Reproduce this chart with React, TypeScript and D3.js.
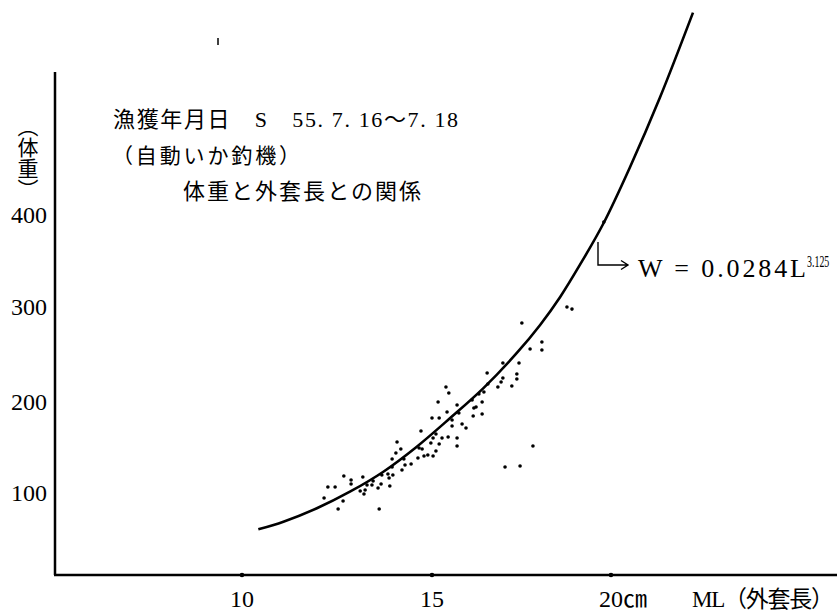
import * as d3 from "d3";

const width = 837;
const height = 615;

// mantle length (cm), body weight (g)
const lengths = [
  12.16, 12.26, 12.45, 12.53, 12.66, 12.68, 12.87, 12.87, 13.11, 13.18,
  13.24, 13.21, 13.29, 13.42, 13.45, 13.58, 13.61, 13.66, 13.68, 13.84,
  13.87, 13.89, 13.97, 13.95, 13.95, 14.05, 14.08, 14.18, 14.21, 14.26,
  14.29, 14.45, 14.63, 14.66, 14.71, 14.74, 14.79, 14.89, 14.97, 15.0,
  15.03, 15.03, 15.11, 15.11, 15.17, 15.2, 15.2, 15.28, 15.39, 15.45,
  15.47, 15.42, 15.56, 15.56, 15.7, 15.7, 15.7, 15.75, 15.84, 15.95,
  16.12, 16.15, 16.17, 16.23, 16.31, 16.4, 16.4, 16.45, 16.54, 16.56,
  16.84, 16.93, 16.98, 16.98, 17.04, 17.23, 17.37, 17.37, 17.43, 17.46,
  17.74, 17.82, 18.07, 18.07, 17.51, 18.77, 18.91, 19.8,
];
const weights = [
  94.5, 106.6, 106.6, 82.4, 91.2, 118.7, 114.3, 109.9, 102.2, 117.6,
  103.3, 98.9, 108.8, 108.8, 113.2, 105.5, 82.4, 109.9, 119.8, 120.9,
  116.5, 107.7, 119.8, 128.6, 137.4, 144.0, 156.0, 148.4, 125.3, 137.4,
  130.8, 131.9, 138.5, 149.5, 168.1, 148.4, 140.7, 141.8, 154.9, 182.4,
  160.4, 140.7, 164.8, 146.2, 200, 153.8, 182.4, 160.4, 215.8, 161.5,
  209.5, 189.0, 180.2, 173.6, 196.7, 160.4, 151.6, 187.9, 175.8, 171.4,
  202.1, 184.6, 193.4, 194.5, 208.4, 200, 186.8, 210.5, 230.5, 218.9,
  215.8, 221.1, 225.3, 241.1, 128.6, 216.8, 224.2, 229.5, 241.1, 129.7,
  255.8, 151.6, 263.2, 254.7, 283.2, 300, 297.8, 392.4,
];

// fitted curve W = 0.0284 L^3.125
const curveL = [10.43, 11.09, 11.97, 12.84, 13.72, 14.6, 15.5, 16.43, 17.37, 18.02, 18.58, 19.13, 19.78, 20.53, 21.37, 22.29];
const curveW = [60.1, 68.5, 83.2, 101.4, 123.4, 150.9, 182.1, 214.4, 251.6, 281.1, 310.9, 345.7, 390.2, 452, 528, 620];

const xTicks = [10, 15, 20];
const xTickLabels = ["10", "15", "20㎝"];
const yTicks = [100, 200, 300, 400];

// hand-drawn axes: tick spacing is uneven, so piecewise scales
const x = d3.scaleLinear().domain([10, 15, 20]).range([242, 432, 611]);
const y = d3.scaleLinear().domain([100, 200, 300, 400]).range([493, 402, 307, 215]);

const axisX0 = 55;
const axisY0 = 575;

const serif = "'Liberation Serif', 'Noto Sans CJK JP', serif";
const jp = "'Liberation Serif', 'Noto Sans CJK JP', sans-serif";

const App = () => {
  const points = lengths.map((l, i) => ({ l, w: weights[i] }));
  const curvePts = curveL.map((l, i) => [l, curveW[i]] as [number, number]);
  const line = d3
    .line<[number, number]>()
    .x((d) => x(d[0]))
    .y((d) => y(d[1]))
    .curve(d3.curveCatmullRom.alpha(0.5));

  return (
    <svg
      width={width}
      height={height}
      style={{ position: "absolute", left: 0, top: 0, background: "#fff" }}
    >
      <rect width={width} height={height} fill="#fff" />
      {/* axes */}
      <line x1={axisX0} y1={72} x2={axisX0} y2={axisY0} stroke="#000" strokeWidth={2.5} />
      <line x1={axisX0 - 1} y1={axisY0} x2={width} y2={axisY0} stroke="#000" strokeWidth={2.5} />
      <line x1={218} y1={38} x2={218} y2={45} stroke="#000" strokeWidth={1.5} />

      {xTicks.map((t, i) => (
        <g key={t}>
          <circle cx={x(t)} cy={axisY0} r={2.3} fill="#000" />
          <text x={x(t) - 12} y={607} fontFamily={serif} fontSize={24} fill="#000">
            {xTickLabels[i]}
          </text>
        </g>
      ))}
      <text x={692} y={607} fontFamily={jp} fontSize={23} fill="#000" textLength={142}>
        ML（外套長）
      </text>

      {yTicks.map((t) => (
        <text
          key={t}
          x={47}
          y={y(t) + 8}
          textAnchor="end"
          fontFamily={serif}
          fontSize={24}
          fill="#000"
        >
          {t}
        </text>
      ))}
      <text
        x={26}
        y={116}
        fontFamily={jp}
        fontSize={21}
        fill="#000"
        style={{ writingMode: "vertical-rl" }}
      >
        （体重）
      </text>

      {/* title block */}
      <text x={113} y={127} fontFamily={jp} fontSize={22} fill="#000" textLength={345}>
        漁獲年月日　S　55. 7. 16～7. 18
      </text>
      <text x={112} y={163} fontFamily={jp} fontSize={21} fill="#000" textLength={188}>
        （自動いか釣機）
      </text>
      <text x={183} y={199} fontFamily={jp} fontSize={22} fill="#000" textLength={238}>
        体重と外套長との関係
      </text>

      {/* curve */}
      <path d={line(curvePts) ?? ""} fill="none" stroke="#000" strokeWidth={2.6} />

      {/* points */}
      {points.map((p, i) => (
        <circle key={i} cx={x(p.l)} cy={y(p.w)} r={1.8} fill="#000" />
      ))}

      {/* equation label */}
      <path
        d="M598,242 L598,265 L628,265 M621,260.5 L628,265 L621,269.5"
        fill="none"
        stroke="#000"
        strokeWidth={1.4}
      />
      <text x={638} y={277} fontFamily={serif} fontSize={26} fill="#000" textLength={168}>
        W = 0.0284L
      </text>
      <text
        transform="translate(807,267) scale(0.62,1)"
        fontFamily={serif}
        fontSize={16}
        fill="#000"
      >
        3.125
      </text>
    </svg>
  );
};

export default App;
